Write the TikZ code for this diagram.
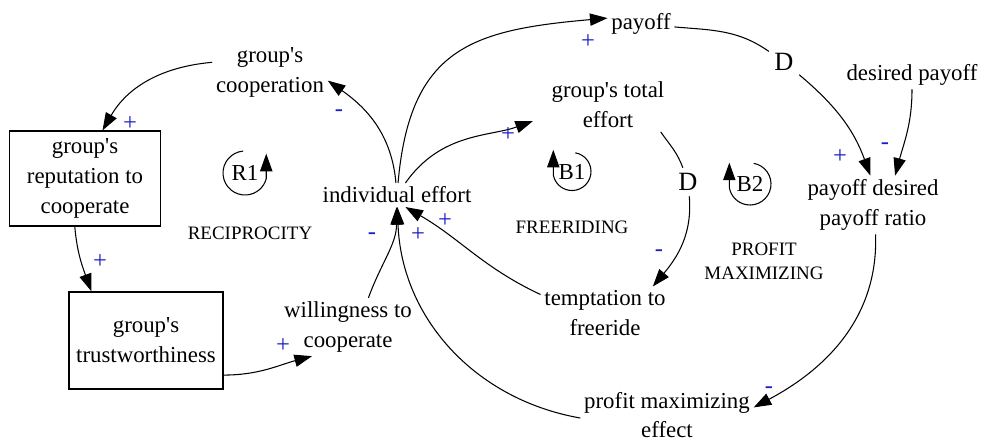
\documentclass[tikz,border=0pt]{standalone}
\usepackage{fontspec}
\setmainfont{Liberation Serif}
\usetikzlibrary{arrows.meta}
\definecolor{polarity}{HTML}{1E1EC8}

\begin{document}
\begin{tikzpicture}[
  var/.style={inner sep=2pt,align=center,font=\fontsize{13}{17}\selectfont},
  box/.style={var,draw,line width=0.7pt},
  link/.style={line width=0.6pt,-{Triangle[length=10pt,width=7pt]}},
  pol/.style={inner sep=0pt,text=polarity,font=\fontsize{14}{14}\selectfont},
  loopname/.style={align=center,font=\fontsize{10.8}{13.6}\selectfont},
  delay/.style={inner sep=3pt,font=\fontsize{15}{15}\selectfont}]

  \useasboundingbox (0,0) rectangle (19.72,-8.88);

  % Variables
  \node[var] (coop) at (5.4,-1.45) {group\textquotesingle s\\cooperation};
  \node[box,minimum width=3.02cm,minimum height=1.9cm] (rep) at (1.7,-3.57) {group\textquotesingle s\\reputation to\\cooperate};
  \node[box,minimum width=3.08cm,minimum height=1.94cm] (trust) at (2.92,-6.81) {group\textquotesingle s\\trustworthiness};
  \node[var] (will) at (6.96,-6.54) {willingness to\\cooperate};
  \node[var] (eff) at (7.94,-3.9) {individual effort};
  \node[var] (payoff) at (12.82,-0.48) {payoff};
  \node[var] (total) at (12.16,-2.1) {group\textquotesingle s total\\effort};
  \node[var] (desired) at (18.24,-1.5) {desired payoff};
  \node[var] (ratio) at (17.46,-4.1) {payoff desired\\payoff ratio};
  \node[var] (tempt) at (12.1,-6.26) {temptation to\\freeride};
  \node[var] (profit) at (13.34,-8.3) {profit maximizing\\effect};

  % Delay marks
  \node[delay] (d1) at (15.68,-1.24) {D};
  \node[delay] (d2) at (13.76,-3.64) {D};

  % Links
  \draw[link] (coop.170) to[out=185,in=60] (rep.70);
  \draw[link] (eff.95) to[out=95,in=-35] (coop.-8);
  \draw[link] (eff.85) to[out=85,in=185,looseness=1.3] (payoff.170);
  \draw[link,shorten >=9pt] (eff.55) to[out=55,in=200] (total.190);
  \draw[link] (rep.-102) to[out=-85,in=110] (trust.138);
  \draw[link] (trust.-24) to[out=0,in=195] (will.219);
  \draw[link] (will.55) to[out=70,in=-90] (eff.-92);
  \draw[link] (profit.182) to[out=170,in=-88] (eff.-88);
  \draw[link] (tempt.164) to[out=155,in=-30] (eff.-55);
  \draw[link] (payoff.-5) to[out=-5,in=145] (d1) to[out=-40,in=110] (ratio.95);
  \draw[link] (desired.-90) to[out=-90,in=75] (ratio.53);
  \draw[link] (total.-27) to[out=-55,in=110] (d2) to[out=-85,in=50] (tempt.29);
  \draw[link] (ratio.-85) to[out=-88,in=28] (profit.5);

  % Polarities
  \node[pol] (p1) at (2.6,-2.48) {+};
  \node[pol] (p2) at (6.78,-2.26) {-};
  \node[pol] (p3) at (2.0,-5.24) {+};
  \node[pol] (p4) at (5.66,-6.92) {+};
  \node[pol] (p5) at (7.44,-4.72) {-};
  \node[pol] (p6) at (8.36,-4.7) {+};
  \node[pol] (p7) at (8.9,-4.42) {+};
  \node[pol] (p8) at (11.76,-0.84) {+};
  \node[pol] (p9) at (10.16,-2.7) {+};
  \node[pol] (p10) at (16.8,-3.14) {+};
  \node[pol] (p11) at (17.7,-2.92) {-};
  \node[pol] (p12) at (13.18,-5.06) {-};
  \node[pol] (p13) at (15.38,-7.8) {-};

  % Loops
  \node[var] (r1) at (4.9,-3.46) {R1};
  \draw[link] (r1.center) ++(95:0.44) arc[start angle=95,end angle=345,radius=0.44] -- ++(0,0.5);
  \node[var] (b1) at (11.44,-3.43) {B1};
  \draw[link] (b1.center) ++(80:0.38) arc[start angle=80,end angle=-170,radius=0.38] -- ++(0,0.5);
  \node[var] (b2) at (15.0,-3.68) {B2};
  \draw[link] (b2.center) ++(80:0.42) arc[start angle=80,end angle=-170,radius=0.42] -- ++(0,0.5);

  \node[loopname] (l1) at (5.0,-4.66) {RECIPROCITY};
  \node[loopname] (l2) at (11.44,-4.54) {FREERIDING};
  \node[loopname] (l3) at (15.28,-5.22) {PROFIT\\MAXIMIZING};
\end{tikzpicture}
\end{document}
